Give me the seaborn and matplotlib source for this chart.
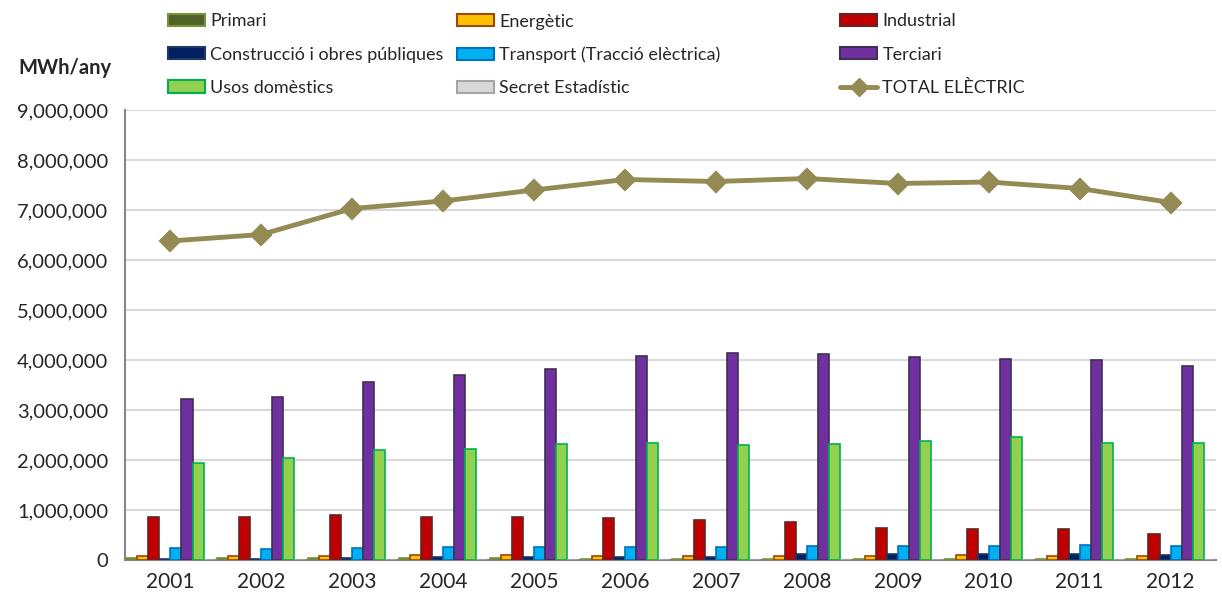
import matplotlib
matplotlib.use("Agg")
import matplotlib.pyplot as plt
from matplotlib.patches import Patch
from matplotlib.lines import Line2D
from matplotlib.ticker import FuncFormatter, MultipleLocator, FixedLocator
import numpy as np
import pandas as pd
import seaborn as sns

# ── Data (MWh/any) ───────────────────────────────────────────────────────────
years = ["2001", "2002", "2003", "2004", "2005", "2006",
         "2007", "2008", "2009", "2010", "2011", "2012"]

primari      = [40000, 35000, 35000, 35000, 35000, 30000, 30000, 30000, 30000, 20000, 20000, 20000]
energetic    = [80000, 83000, 87000, 105000, 110000, 87000, 83000, 87000, 87000, 93000, 87000, 83000]
industrial   = [870000, 870000, 905000, 865000, 853000, 833000, 800000, 753000, 633000, 627000, 620000, 520000]
construccio  = [30000, 30000, 35000, 60000, 60000, 60000, 60000, 120000, 130000, 125000, 120000, 100000]
transport    = [247000, 220000, 247000, 260000, 260000, 260000, 260000, 273000, 280000, 273000, 307000, 273000]
terciari     = [3230000, 3270000, 3570000, 3700000, 3830000, 4080000, 4140000, 4130000, 4070000, 4020000, 4010000, 3890000]
domestic     = [1933000, 2040000, 2200000, 2213000, 2313000, 2333000, 2300000, 2327000, 2387000, 2460000, 2347000, 2333000]
secret       = [0] * 12
total        = [6380000, 6510000, 7030000, 7180000, 7400000, 7610000, 7570000, 7630000, 7530000, 7560000, 7430000, 7150000]

sectors = ["Primari", "Energètic", "Industrial", "Construcció i obres públiques",
           "Transport (Tracció elèctrica)", "Terciari", "Usos domèstics", "Secret Estadístic"]
series = [primari, energetic, industrial, construccio, transport, terciari, domestic, secret]

fills = ["#4F6228", "#FFC000", "#C00000", "#002060", "#00B0F0", "#7030A0", "#92D050", "#D9D9D9"]
edges = ["#77933C", "#984807", "#632523", "#1F3864", "#0070C0", "#3F3151", "#00B050", "#A6A6A6"]
line_color = "#948A54"

df = pd.DataFrame({
    "year": np.tile(years, len(sectors)),
    "sector": np.repeat(sectors, len(years)),
    "value": np.concatenate(series),
})

# ── Plot ─────────────────────────────────────────────────────────────────────
sns.set_style("white")
plt.rcParams["font.family"] = ["Lato", "DejaVu Sans"]

fig = plt.figure(figsize=(12.22, 6.02), dpi=100)
ax = fig.add_axes([125 / 1222, 1 - 560 / 602, (1216 - 125) / 1222, 450 / 602])

sns.barplot(data=df, x="year", y="value", hue="sector", order=years, hue_order=sectors,
            palette=fills, width=0.97, saturation=1, ax=ax, legend=False, zorder=3)
for cont, ec in zip(ax.containers, edges):
    for bar in cont:
        bar.set_edgecolor(ec)
        bar.set_linewidth(1.2)

sns.pointplot(x=years, y=total, color=line_color, marker="D", markersize=9,
              linewidth=3.5, ax=ax, zorder=5)

ax.set_ylim(0, 9000000)
ax.set_xlim(-0.5, len(years) - 0.5)
ax.yaxis.set_major_locator(MultipleLocator(1000000))
ax.yaxis.set_major_formatter(FuncFormatter(lambda v, p: f"{int(v):,}"))
ax.grid(axis="y", color="#D9D9D9", linewidth=1.5, zorder=0)
ax.set_axisbelow(True)
ax.set_xlabel("")
ax.set_ylabel("")

for s in ["top", "right"]:
    ax.spines[s].set_visible(False)
for s in ["left", "bottom"]:
    ax.spines[s].set_color("#868686")
    ax.spines[s].set_linewidth(1.5)

ax.tick_params(axis="y", length=7, width=1.2, color="#868686", labelsize=14.5, pad=5)
ax.tick_params(axis="x", which="major", length=0, labelsize=15, pad=9)
ax.xaxis.set_minor_locator(FixedLocator(np.arange(-0.5, len(years), 1.0)))
ax.tick_params(axis="x", which="minor", length=8, width=1.2, color="#868686")

fig.text(65 / 1222, 1 - 68 / 602, "MWh/any", ha="center", va="center",
         fontsize=14.5, fontweight="bold")

# legend: three separate columns placed like the original
patches = [Patch(facecolor=f, edgecolor=e, linewidth=1.5, label=l)
           for f, e, l in zip(fills, edges, sectors)]
total_handle = Line2D([], [], color=line_color, linewidth=3.5, marker="D",
                      markersize=9, label="TOTAL ELÈCTRIC")
columns = [
    ([patches[0], patches[3], patches[6]], 168),
    ([patches[1], patches[4], patches[7]], 457),
    ([patches[2], patches[5], total_handle], 840),
]
for hs, xpix in columns:
    fig.legend(handles=hs, ncol=1, loc="upper left",
               bbox_to_anchor=(xpix / 1222, 1 - 13.5 / 602), frameon=False,
               fontsize=13, handlelength=2.05, handleheight=0.67, handletextpad=0.3,
               labelspacing=0.95, borderpad=0, borderaxespad=0)

fig.savefig("out.png", dpi=100, facecolor="white")
